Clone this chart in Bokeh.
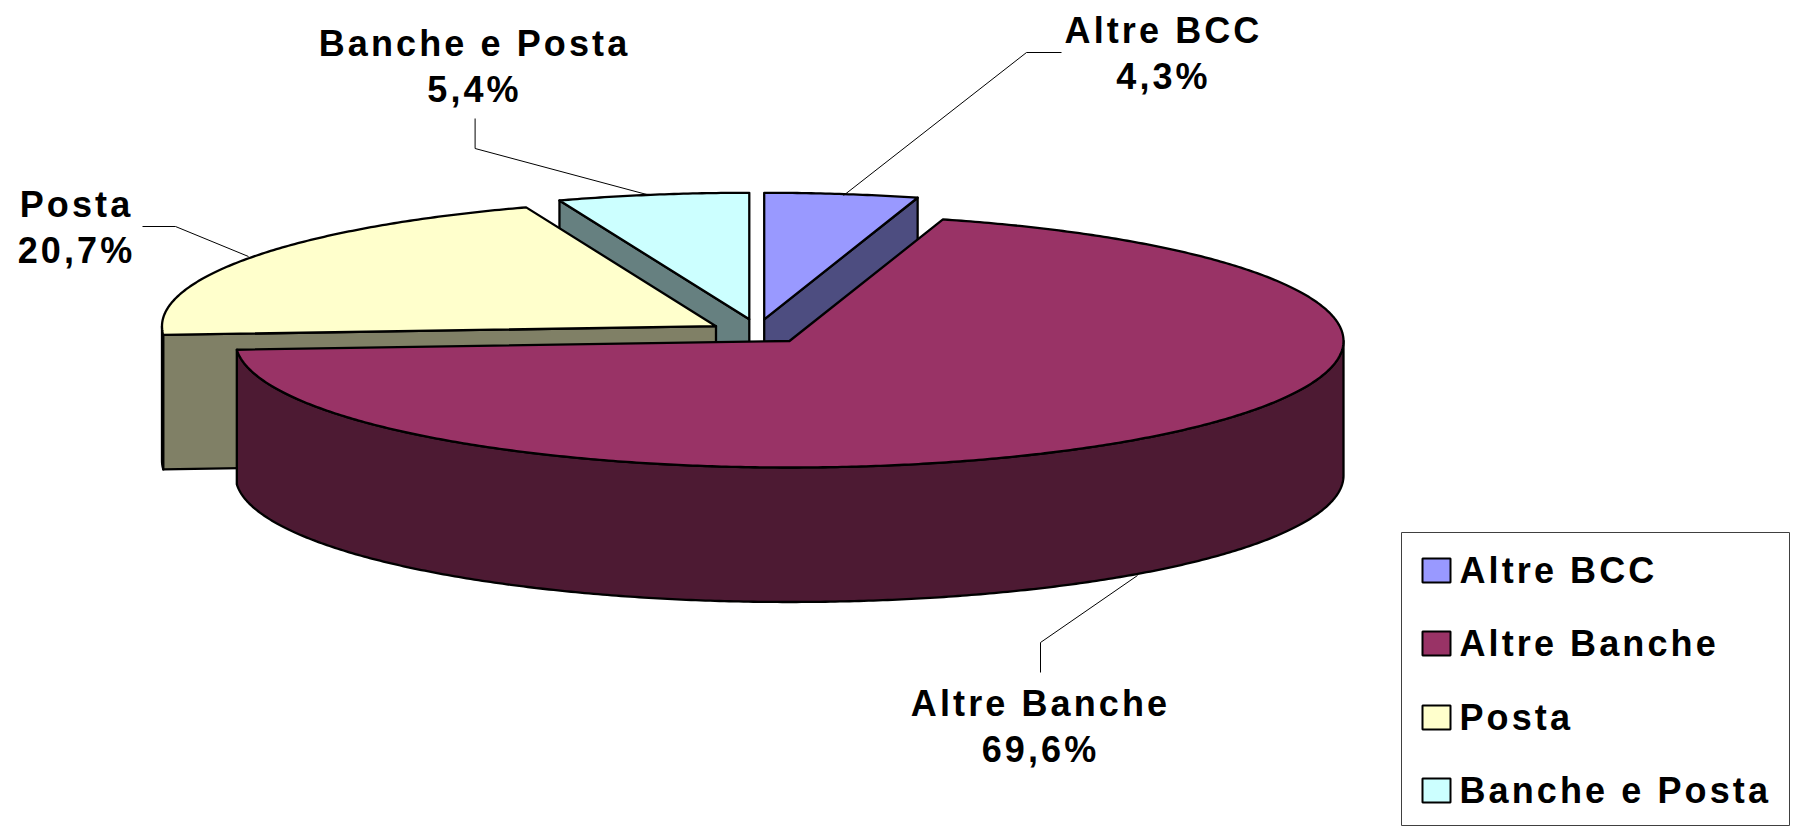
import numpy as np
from bokeh.core.properties import value
from bokeh.embed import file_html
from bokeh.models import Range1d
from bokeh.plotting import figure
from bokeh.resources import INLINE

categories = ["Altre BCC", "Altre Banche", "Posta", "Banche e Posta"]
shares = [4.3, 69.6, 20.7, 5.4]
top_colors = ["#9999FF", "#993366", "#FFFFCC", "#CCFFFF"]
wall_colors = ["#4D4D80", "#4D1A33", "#808066", "#668080"]

# layout (page pixels)
apex_x = [763.7, 789.0, 715.5, 748.8]
apex_y = [318.8, 340.5, 325.7, 318.8]
RX, RY, DEPTH = 554.0, 126.5, 134.5
label_x = [1163, 1040, 76, 474]
label_y = [30, 703, 204, 43]
LINE_GAP = 46
SPACING = 3.1
leaders_x = [[843, 1026, 1061], [1137, 1040, 1040], [248, 175, 142], [650, 474.6, 474.6]]
leaders_y = [[195, 52, 52], [575, 642, 672], [256, 226, 226], [195, 148, 118]]
legend_row_y = [570, 643, 717, 790]
# the drawn edges sit a little off the rounded percentages (degrees)
edge_nudge = [0, 0.6, 0, -0.6, 0]

W, H = 1798, 826
p = figure(width=W, height=H, output_backend="svg", toolbar_location=None,
           x_range=Range1d(0, W), y_range=Range1d(H, 0), min_border=0)
p.axis.visible = False
p.grid.visible = False
p.outline_line_color = None
p.styles = {"letter-spacing": f"{SPACING}px"}

edges = np.cumsum([0] + shares) * 3.6 + np.array(edge_nudge)


def rim(i, a):
    t = np.radians(a)
    return apex_x[i] + RX * np.sin(t), apex_y[i] - RY * np.cos(t)


def arc(i, a0, a1):
    return rim(i, np.linspace(a0, a1, max(2, int(abs(a1 - a0) * 2) + 2)))


def patch(xs, ys, fill, lw=2.3):
    p.patch(list(xs), list(ys), fill_color=fill, line_color="black", line_width=lw, line_join="round")


def cut_face(i, a, fill):
    x, y = rim(i, a)
    patch([apex_x[i], x, x, apex_x[i]],
          [apex_y[i], y, y + DEPTH, apex_y[i] + DEPTH], fill)


def outer_wall(i, a0, a1, fill):
    x, y = arc(i, a0, a1)
    patch(np.r_[x, x[::-1]], np.r_[y, y[::-1] + DEPTH], fill)


def top_face(i):
    x, y = arc(i, edges[i], edges[i + 1])
    patch(np.r_[apex_x[i], x], np.r_[apex_y[i], y], top_colors[i])


# back slices, then the front one
cut_face(3, edges[3], wall_colors[3])
top_face(3)
cut_face(0, edges[1], wall_colors[0])
top_face(0)
outer_wall(2, edges[2], 270, wall_colors[2])
cut_face(2, edges[2], wall_colors[2])
top_face(2)
outer_wall(1, 90, edges[2], wall_colors[1])
top_face(1)

for lx, ly in zip(leaders_x, leaders_y):
    p.line(lx, ly, line_color="black", line_width=1)

font = value("Liberation Sans")
for name, s, x, y in zip(categories, shares, label_x, label_y):
    pct = f"{s:.1f}%".replace(".", ",")
    # the letter spacing is not counted when the text is centred
    xs = [x - len(t) * SPACING / 2 for t in (name, pct)]
    p.text(xs, [y, y + LINE_GAP], text=[name, pct], text_align="center", text_baseline="middle",
           text_font=font, text_font_style="bold", text_font_size="36px", text_color="black")

# legend
p.quad(left=[1401], right=[1789], top=[532], bottom=[825], fill_color="white",
       line_color="#404040", line_width=1)
p.quad(left=[1422] * 4, right=[1450] * 4,
       top=[y - 12 for y in legend_row_y], bottom=[y + 12 for y in legend_row_y],
       fill_color=top_colors, line_color="black", line_width=2)
p.text([1459] * 4, legend_row_y, text=categories, text_align="left", text_baseline="middle",
       text_font=font, text_font_style="bold", text_font_size="36px", text_color="black")

open("out.html", "w").write(file_html(p, INLINE))
